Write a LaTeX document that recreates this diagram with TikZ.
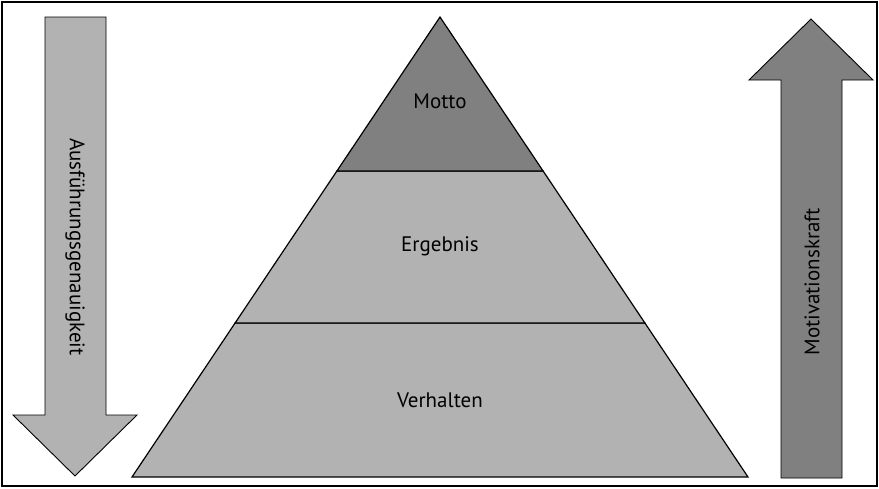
\documentclass[tikz,border=0pt]{standalone}
\usepackage{fontspec}
\setmainfont{PT Sans}

\begin{document}
\begin{tikzpicture}[x=1pt,y=-1pt]
	\tikzstyle{layer} = [draw,line width=1.2pt,line join=miter]
	\tikzstyle{pfeil} = [draw,line width=0.9pt,line join=miter]
	\tikzstyle{lbl}   = [font=\fontsize{21}{24}\selectfont,inner sep=0pt]
	\definecolor{dunkel}{gray}{0.5}
	\definecolor{hell}{gray}{0.7}

	\useasboundingbox (0,0) rectangle (879,488);
	\draw[line width=1.5pt] (2,2) rectangle (877,486);

	% Pyramide
	\path[layer,fill=hell] (132,477) -- (748,477) -- (644.9,323) -- (235.1,323) -- cycle;
	\path[layer,fill=hell] (235.1,323) -- (644.9,323) -- (543.1,171) -- (336.9,171) -- cycle;
	\path[layer,fill=dunkel] (336.9,171) -- (543.1,171) -- (440,17) -- cycle;

	\node[lbl] (motto)     at (440,101) {Motto};
	\node[lbl] (ergebnis)  at (440,246) {Ergebnis};
	\node[lbl] (verhalten) at (440,400) {Verhalten};

	% Pfeile
	\path[pfeil,fill=hell] (45,17) -- (106,17) -- (106,415) -- (137,415) -- (75,476)
		-- (13,415) -- (45,415) -- cycle;
	\path[pfeil,fill=dunkel] (781,478) -- (842,478) -- (842,80) -- (873,80) -- (811,19)
		-- (749,80) -- (781,80) -- cycle;

	\node[lbl,rotate=-90] (genau) at (75,247) {Ausführungsgenauigkeit};
	\node[lbl,rotate=90]  (kraft) at (812,282) {Motivationskraft};
\end{tikzpicture}
\end{document}
